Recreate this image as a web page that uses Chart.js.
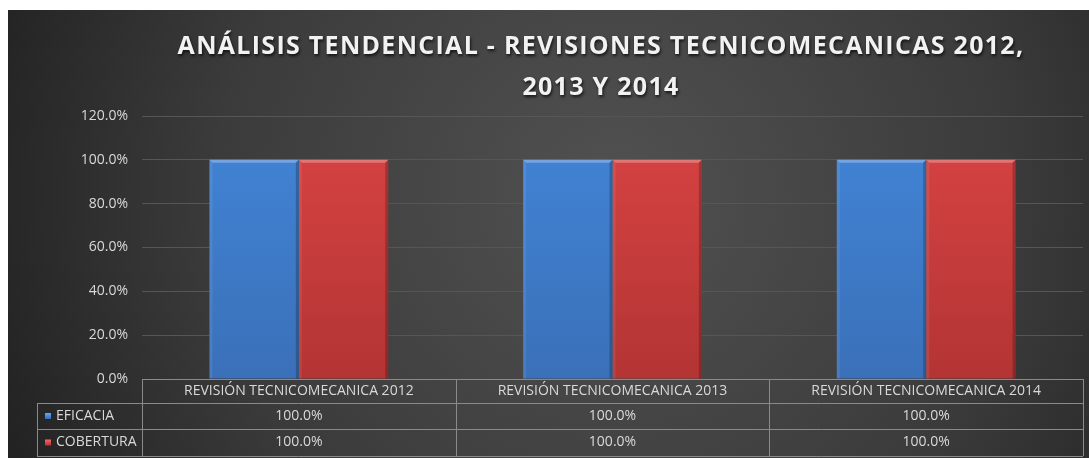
<!DOCTYPE html>
<html>
<head>
<meta charset="utf-8">
<script src="https://cdn.jsdelivr.net/npm/chart.js@4"></script>
<style>
  body { margin: 0; background: #fff; }
  #wrap { position: absolute; left: 8px; top: 10px; width: 1081px; height: 448px; }
</style>
</head>
<body>
<div id="wrap"><canvas id="trendChart"></canvas></div>
<script>
// data
const categories = ['REVISIÓN TECNICOMECANICA 2012', 'REVISIÓN TECNICOMECANICA 2013', 'REVISIÓN TECNICOMECANICA 2014'];
const eficacia = [100, 100, 100];
const cobertura = [100, 100, 100];
const seriesNames = ['EFICACIA', 'COBERTURA'];
const titleLines = ['ANÁLISIS TENDENCIAL - REVISIONES TECNICOMECANICAS 2012,', '2013 Y 2014'];
const yMin = 0, yMax = 120, yStep = 20;

const FONT = '"Open Sans", "DejaVu Sans", sans-serif';
const TEXT = '#d9d9d9';
const LINE = '#8a8a8a';

function barFill(top, bottom) {
    return function (ctx) {
        const area = ctx.chart.chartArea;
        if (!area) return top;
        const g = ctx.chart.ctx.createLinearGradient(0, area.top, 0, area.bottom);
        g.addColorStop(0, top);
        g.addColorStop(1, bottom);
        return g;
    };
}

// dark panel background
const background = {
    id: 'background',
    beforeDraw(chart) {
        const c = chart.ctx;
        const w = chart.width, h = chart.height;
        c.save();
        const g = c.createRadialGradient(w * 0.56, h * 0.42, 20, w * 0.56, h * 0.42, w * 0.6);
        g.addColorStop(0, '#505050');
        g.addColorStop(0.6, '#3b3b3b');
        g.addColorStop(1, '#232323');
        c.fillStyle = g;
        c.fillRect(0, 0, w, h);
        c.restore();
    }
};

// bevel on each bar
const bevel = {
    id: 'bevel',
    afterDatasetsDraw(chart) {
        const c = chart.ctx;
        const b = 3;
        chart.data.datasets.forEach((ds, di) => {
            chart.getDatasetMeta(di).data.forEach(bar => {
                const l = bar.x - bar.width / 2, r = bar.x + bar.width / 2;
                const t = bar.y, bt = bar.base;
                c.save();
                c.fillStyle = 'rgba(255,255,255,0.28)';
                c.beginPath();
                c.moveTo(l, t); c.lineTo(r, t); c.lineTo(r - b, t + b); c.lineTo(l + b, t + b);
                c.closePath(); c.fill();
                c.fillStyle = 'rgba(255,255,255,0.08)';
                c.beginPath();
                c.moveTo(l, t); c.lineTo(l + b, t + b); c.lineTo(l + b, bt); c.lineTo(l, bt);
                c.closePath(); c.fill();
                c.fillStyle = 'rgba(0,0,0,0.22)';
                c.beginPath();
                c.moveTo(r, t); c.lineTo(r - b, t + b); c.lineTo(r - b, bt); c.lineTo(r, bt);
                c.closePath(); c.fill();
                c.restore();
            });
        });
    }
};

// title + data table under the plot
const titleAndTable = {
    id: 'titleAndTable',
    afterDraw(chart) {
        const c = chart.ctx;
        const x = chart.scales.x;
        const area = chart.chartArea;
        c.save();

        // title
        c.font = 'bold 25px ' + FONT;
        c.fillStyle = '#f2f2f2';
        c.textAlign = 'center';
        c.textBaseline = 'middle';
        c.shadowColor = 'rgba(0,0,0,0.7)';
        c.shadowOffsetX = 1; c.shadowOffsetY = 2; c.shadowBlur = 3;
        c.letterSpacing = '1.3px';
        c.fillText(titleLines[0], 593, 37);
        c.fillText(titleLines[1], 593, 78);
        c.restore();

        c.save();
        const rows = [area.bottom, area.bottom + 24, area.bottom + 50, area.bottom + 77];
        const legendLeft = 29;
        const band = (x.right - x.left) / categories.length;

        c.strokeStyle = LINE;
        c.lineWidth = 1;
        c.beginPath();
        // horizontal lines
        c.moveTo(x.left, rows[0] + 0.5); c.lineTo(x.right, rows[0] + 0.5);
        for (let i = 1; i < rows.length; i++) {
            c.moveTo(legendLeft, rows[i] + 0.5); c.lineTo(x.right, rows[i] + 0.5);
        }
        // vertical lines
        c.moveTo(legendLeft + 0.5, rows[1]); c.lineTo(legendLeft + 0.5, rows[3]);
        for (let i = 0; i <= categories.length; i++) {
            const px = Math.round(x.left + band * i) + 0.5;
            c.moveTo(px, rows[0]); c.lineTo(px, rows[3]);
        }
        c.stroke();

        c.font = '14px ' + FONT;
        c.fillStyle = TEXT;
        c.textBaseline = 'middle';
        c.textAlign = 'center';
        categories.forEach((cat, i) => {
            const cx = x.getPixelForValue(i);
            c.fillText(cat, cx, (rows[0] + rows[1]) / 2);
            c.fillText(eficacia[i].toFixed(1) + '%', cx, (rows[1] + rows[2]) / 2);
            c.fillText(cobertura[i].toFixed(1) + '%', cx, (rows[2] + rows[3]) / 2);
        });

        // legend keys
        const keyColors = [['#6aa6f0', '#2f6cc0'], ['#f06a6a', '#c02f2f']];
        seriesNames.forEach((name, i) => {
            const cy = (rows[i + 1] + rows[i + 2]) / 2;
            const g = c.createLinearGradient(0, cy - 3, 0, cy + 3);
            g.addColorStop(0, keyColors[i][0]);
            g.addColorStop(1, keyColors[i][1]);
            c.fillStyle = g;
            c.fillRect(legendLeft + 8, cy - 3, 6, 6);
            c.fillStyle = TEXT;
            c.textAlign = 'left';
            c.fillText(name, legendLeft + 19, cy);
        });
        c.restore();
    }
};

const ctx = document.getElementById('trendChart').getContext('2d');
const trendChart = new Chart(ctx, {
    type: 'bar',
    data: {
        labels: categories,
        datasets: [{
            label: seriesNames[0],
            data: eficacia,
            backgroundColor: barFill('#4285d8', '#3a70b8'),
            borderWidth: 0,
            categoryPercentage: 0.57,
            barPercentage: 1
        }, {
            label: seriesNames[1],
            data: cobertura,
            backgroundColor: barFill('#da4444', '#b33434'),
            borderWidth: 0,
            categoryPercentage: 0.57,
            barPercentage: 1
        }]
    },
    options: {
        responsive: true,
        maintainAspectRatio: false,
        animation: false,
        layout: { padding: { top: 106, bottom: 79, left: 0, right: 6 } },
        plugins: {
            legend: { display: false },
            title: { display: false },
            tooltip: { enabled: false }
        },
        scales: {
            x: { display: false },
            y: {
                min: yMin,
                max: yMax,
                ticks: {
                    stepSize: yStep,
                    color: TEXT,
                    font: { family: FONT, size: 14 },
                    padding: 14,
                    callback: v => v.toFixed(1) + '%'
                },
                grid: { color: '#565656', drawTicks: false },
                border: { display: false },
                afterFit(axis) { axis.width = 134; }
            }
        }
    },
    plugins: [background, bevel, titleAndTable]
});
</script>
</body>
</html>
